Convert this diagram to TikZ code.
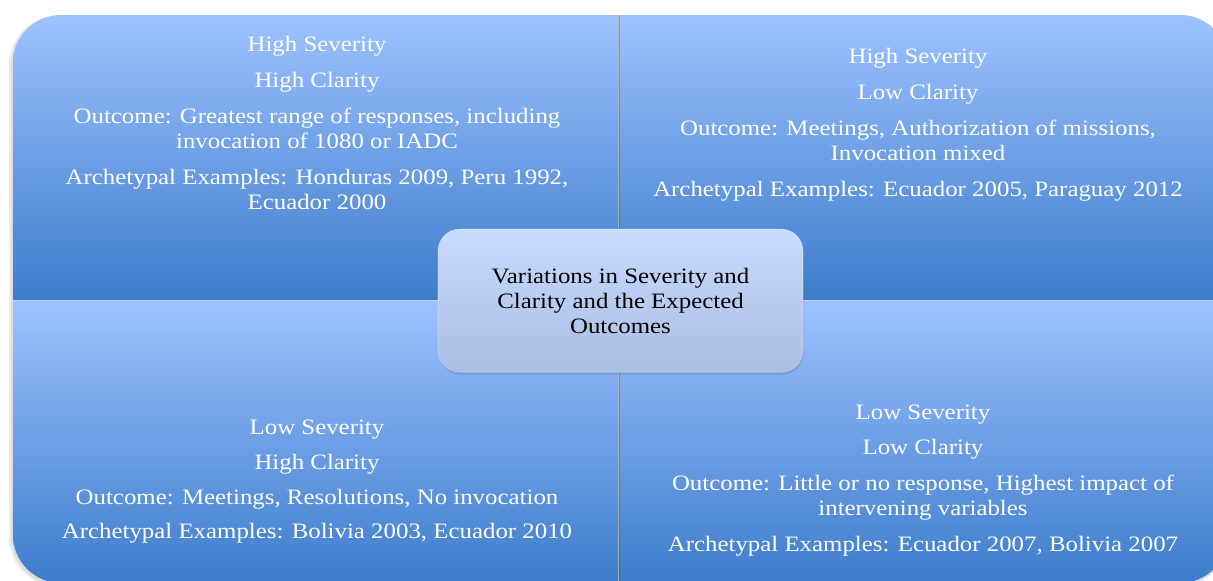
\documentclass[tikz,border=0pt]{standalone}
\usepackage{fontspec}
\setmainfont{Liberation Serif}[FakeStretch=1.13]
\usetikzlibrary{shadows}
\definecolor{qtop}{RGB}{157,194,255}
\definecolor{qbot}{RGB}{61,124,203}
\definecolor{ctop}{RGB}{201,220,255}
\definecolor{cbot}{RGB}{168,189,226}
\tikzset{
  quad/.style={rectangle, inner sep=0pt, draw=none, top color=qtop, bottom color=qbot},
  qtext/.style={align=center, text=white, inner sep=0pt, font=\fontsize{22}{25}\selectfont},
  centerbox/.style={rectangle, rounded corners=22pt, minimum width=365pt, minimum height=143pt,
    top color=ctop, bottom color=cbot, draw=white, draw opacity=0.35, line width=0.6pt,
    align=center, text=black, inner sep=0pt, font=\fontsize{22}{25}\selectfont,
    drop shadow={shadow xshift=1pt, shadow yshift=-3pt, opacity=0.18, fill=black!60}},
}
\begin{document}
\begin{tikzpicture}[x=1pt,y=-1pt]
\useasboundingbox (0,0) rectangle (1213,581);
\clip (0,0) rectangle (1213,581);
% soft shadow at left edge
\fill[black, opacity=0.07, rounded corners=48pt] (9,16) rectangle (1228,586);
\fill[black, opacity=0.07, rounded corners=48pt] (11,16) rectangle (1228,585);
\begin{scope}
\clip[rounded corners=48pt] (13,15) rectangle (1228,583);
\node[quad, minimum width=605pt, minimum height=284pt, anchor=north west] (q1) at (13,15) {};
\node[quad, minimum width=609pt, minimum height=284pt, anchor=north west] (q2) at (619,15) {};
\node[quad, minimum width=605pt, minimum height=284pt, anchor=north west] (q3) at (13,300) {};
\node[quad, minimum width=609pt, minimum height=284pt, anchor=north west] (q4) at (619,300) {};
\draw[black, opacity=0.16, line width=1.4pt] (q2.north west) -- (q4.south west);
\draw[white, opacity=0.25, line width=0.8pt] (q3.north west) -- (q4.north east);
\end{scope}
\node[qtext] (t1) at (317,122.5) {High Severity\\[11pt]High Clarity\\[11pt]Outcome: Greatest range of responses, including\\invocation of 1080 or IADC\\[11pt]Archetypal Examples: Honduras 2009, Peru 1992,\\Ecuador 2000};
\node[qtext] (t2) at (918,125) {High Severity\\[11pt]Low Clarity\\[11pt]Outcome: Meetings, Authorization of missions,\\Invocation mixed\\[11pt]Archetypal Examples: Ecuador 2005, Paraguay 2012};
\node[qtext] (t3) at (317,482) {Low Severity\\[10pt]High Clarity\\[10pt]Outcome: Meetings, Resolutions, No invocation\\[9pt]Archetypal Examples: Bolivia 2003, Ecuador 2010};
\node[qtext] (t4) at (923,481) {Low Severity\\[10pt]Low Clarity\\[11pt]Outcome: Little or no response, Highest impact of\\intervening variables\\[11pt]Archetypal Examples: Ecuador 2007, Bolivia 2007};
\node[centerbox] (c) at (620.5,300.5) {Variations in Severity and\\Clarity and the Expected\\Outcomes};
\end{tikzpicture}
\end{document}
